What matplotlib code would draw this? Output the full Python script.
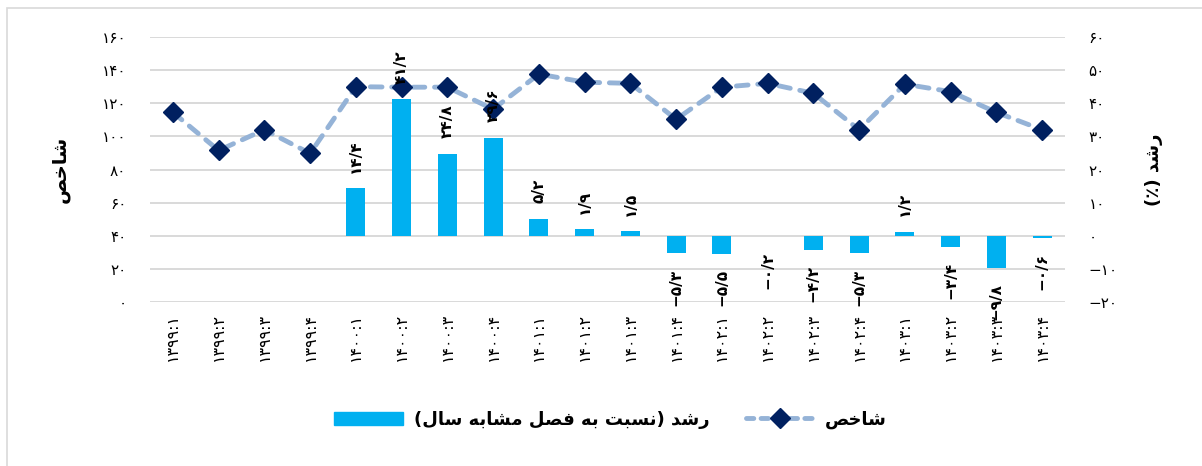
import matplotlib
matplotlib.use("Agg")
import matplotlib.pyplot as plt
from matplotlib.lines import Line2D
from matplotlib.patches import Patch, Rectangle

# ---------------- data ----------------
categories = ["۱۳۹۹:۱", "۱۳۹۹:۲", "۱۳۹۹:۳", "۱۳۹۹:۴",
              "۱۴۰۰:۱", "۱۴۰۰:۲", "۱۴۰۰:۳", "۱۴۰۰:۴",
              "۱۴۰۱:۱", "۱۴۰۱:۲", "۱۴۰۱:۳", "۱۴۰۱:۴",
              "۱۴۰۲:۱", "۱۴۰۲:۲", "۱۴۰۲:۳", "۱۴۰۲:۴",
              "۱۴۰۳:۱", "۱۴۰۳:۲", "۱۴۰۳:۳", "۱۴۰۳:۴"]
index_values = [114.5, 91.5, 104, 89.7,
                130, 129.7, 129.7, 116.4,
                137.6, 132.7, 132, 110.3,
                129.7, 132, 126, 104,
                131.5, 127, 114.5, 104]
growth_values = [None, None, None, None,
                 14.4, 41.2, 24.8, 29.6,
                 5.2, 1.9, 1.5, -5.3,
                 -5.5, -0.2, -4.2, -5.3,
                 1.2, -3.4, -9.8, -0.6]
left_ticks = [0, 20, 40, 60, 80, 100, 120, 140, 160]
right_ticks = [-20, -10, 0, 10, 20, 30, 40, 50, 60]
label_index = "شاخص"
label_growth_axis = "رشد (٪)"
label_growth_legend = "رشد (نسبت به فصل مشابه سال)"

# ---------------- helpers ----------------
FA_DIGITS = str.maketrans("0123456789", "۰۱۲۳۴۵۶۷۸۹")


def fa_num(v, dec=False):
    if dec:
        s = f"{abs(v):.1f}".replace(".", "/")
    else:
        s = f"{abs(int(v))}"
    s = s.translate(FA_DIGITS)
    return ("−" + s) if v < 0 else s


# Arabic shaping (isolated, final, initial, medial); None => right-joining only
FORMS = {
    "ا": ("\uFE8D", "\uFE8E", None, None),
    "ب": ("\uFE8F", "\uFE90", "\uFE91", "\uFE92"),
    "ت": ("\uFE95", "\uFE96", "\uFE97", "\uFE98"),
    "خ": ("\uFEA5", "\uFEA6", "\uFEA7", "\uFEA8"),
    "د": ("\uFEA9", "\uFEAA", None, None),
    "ر": ("\uFEAD", "\uFEAE", None, None),
    "س": ("\uFEB1", "\uFEB2", "\uFEB3", "\uFEB4"),
    "ش": ("\uFEB5", "\uFEB6", "\uFEB7", "\uFEB8"),
    "ص": ("\uFEB9", "\uFEBA", "\uFEBB", "\uFEBC"),
    "ف": ("\uFED1", "\uFED2", "\uFED3", "\uFED4"),
    "ل": ("\uFEDD", "\uFEDE", "\uFEDF", "\uFEE0"),
    "م": ("\uFEE1", "\uFEE2", "\uFEE3", "\uFEE4"),
    "ن": ("\uFEE5", "\uFEE6", "\uFEE7", "\uFEE8"),
    "ه": ("\uFEE9", "\uFEEA", "\uFEEB", "\uFEEC"),
}


def dual(c):
    return c in FORMS and FORMS[c][2] is not None


def shape(text):
    out = []
    for i, c in enumerate(text):
        if c not in FORMS:
            out.append(c)
            continue
        prev = text[i - 1] if i > 0 else ""
        nxt = text[i + 1] if i + 1 < len(text) else ""
        jp = dual(prev)
        jn = dual(c) and nxt in FORMS
        iso, fin, ini, med = FORMS[c]
        if jp and jn:
            out.append(med)
        elif jp:
            out.append(fin)
        elif jn:
            out.append(ini)
        else:
            out.append(iso)
    vis = "".join(reversed(out))
    return vis.translate(str.maketrans("()", ")("))


# ---------------- figure ----------------
plt.rcParams["font.family"] = ["DejaVu Sans"]
fig = plt.figure(figsize=(12.02, 4.66), dpi=100)
fig.patches.append(Rectangle((7 / 1202, -0.05), 1.2, 1 - 8 / 466 + 0.05,
                             transform=fig.transFigure, fill=False,
                             edgecolor="#D9D9D9", linewidth=1.2))

ax = fig.add_axes([150 / 1202, 1 - 302 / 466, (1065 - 150) / 1202, (302 - 37) / 466])
ax2 = ax.twinx()
ax.set_zorder(ax2.get_zorder() + 1)
ax.patch.set_visible(False)

x = list(range(len(categories)))
GRID = "#D9D9D9"
BAR = "#00B0F0"
LINE = "#95B3D7"
MARK = "#002060"

# bars on right axis
bx = [xi for xi, g in zip(x, growth_values) if g is not None]
bv = [g for g in growth_values if g is not None]
ax2.bar(bx, bv, width=0.42, color=BAR, zorder=2)
ax2.set_ylim(-20, 60)
ax2.set_yticks(right_ticks)
ax2.set_yticklabels([fa_num(v) for v in right_ticks], fontsize=11)

# gridlines
ax.set_ylim(0, 160)
ax.set_yticks(left_ticks)
ax.set_yticklabels([fa_num(v) for v in left_ticks], fontsize=11)
for v in left_ticks:
    ax2.axhline(v / 160 * 80 - 20, color=GRID, lw=1.4, zorder=0)

# line on left axis
ax.plot(x, index_values, color=LINE, lw=3.5, linestyle=(0, (2.4, 2.0)),
        dash_capstyle="round", zorder=3)
ax.plot(x, index_values, linestyle="none", marker="D", markersize=10.5,
        markerfacecolor=MARK, markeredgecolor=MARK, zorder=4)

# bar labels
for xi, g in zip(bx, bv):
    off = 11 if g >= 0 else -11
    ax.annotate(fa_num(g, dec=True), xy=(xi, g), xycoords=ax2.transData,
                xytext=(0, off), textcoords="offset points", rotation=90,
                ha="center", va="bottom" if g >= 0 else "top",
                fontsize=11, fontweight="bold", color="black", zorder=6,
                annotation_clip=False)

ax.set_xlim(-0.5, len(categories) - 0.5)
ax.set_xticks(x)
ax.set_xticklabels(categories, rotation=90, fontsize=11.5)

for a in (ax, ax2):
    for s in a.spines.values():
        s.set_visible(False)
    a.tick_params(length=0, colors="black")
ax.tick_params(axis="y", pad=17)
ax2.tick_params(axis="y", pad=17)
ax.tick_params(axis="x", pad=8)

ax.set_ylabel(shape(label_index), fontsize=14, fontweight="bold")
ax2.set_ylabel(shape(label_growth_axis), fontsize=13, fontweight="bold",
               rotation=90)
ax.yaxis.set_label_coords(-80 / 915, 0.5)
ax2.yaxis.set_label_coords(1 + 80 / 915, 0.5)

handles = [Patch(facecolor=BAR, edgecolor=BAR),
           Line2D([0], [0], color=LINE, lw=3.5, linestyle=(0, (1.5, 1.5)),
                  dash_capstyle="round", marker="D", markersize=10.5,
                  markerfacecolor=MARK, markeredgecolor=MARK)]
fig.legend(handles, [shape(label_growth_legend), shape(label_index)],
           loc="center", bbox_to_anchor=(0.508, 0.099), ncol=2, frameon=False,
           prop={"size": 13, "weight": "bold"}, handlelength=3.8,
           columnspacing=2.0, handletextpad=0.6)

fig.savefig("out.png", dpi=100)
